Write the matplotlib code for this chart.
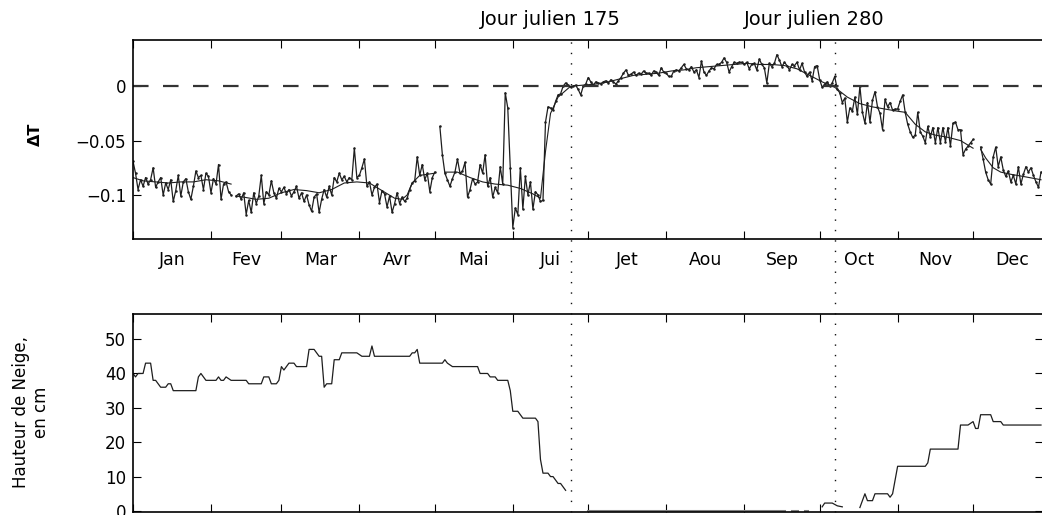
import numpy as np
import matplotlib
matplotlib.use("Agg")
import matplotlib.pyplot as plt
from matplotlib.lines import Line2D
from matplotlib.ticker import FixedLocator, FixedFormatter, NullFormatter
from matplotlib.transforms import blended_transform_factory

MONTH_STARTS = [1, 32, 60, 91, 121, 152, 182, 213, 244, 274, 305, 335, 366]
MONTHS = ["Jan", "Fev", "Mar", "Avr", "Mai", "Jui",
          "Jet", "Aou", "Sep", "Oct", "Nov", "Dec"]
MARK_DAYS = [175, 280]
nan = np.nan

# daily Delta T, in 1e-3 units, day 1..362 (nan = missing)
dt_milli = [
    -69, -80, -95, -86, -92, -84, -90, -86, -75, -93, -88, -84, -100, -89, -95, -86,
    -106, -96, -82, -101, -88, -85, -97, -104, -92, -78, -84, -82, -95, -80, -83,  # jan
    -98, -85, -90, -72, -104, -90, -88, -97, -100, nan, -101, -99, -104, -98, -118,
    -105, -116, -98, -108, -101, -82, -108, -97, -100, -87, -98, -103, -94,  # feb
    -97, -93, -99, -95, -101, -97, -92, -103, -98, -106, -100, -109, -115, -102, -99,
    -116, -104, -95, -102, -92, -100, -84, -88, -80, -86, -83, -88, -84, -86, -57, -84,  # mar
    -82, -75, -67, -92, -88, -100, -93, -90, -107, -96, -99, -111, -101, -116, -108,
    -98, -108, -102, -106, -103, -95, -89, -87, -65, -82, -72, -86, -80, -97, -84,  # apr
    -79, nan, -37, -63, -80, -86, -92, -85, -79, -67, -80, -78, -70, -102, -95, -85,
    -90, -88, -72, -80, -63, -92, -84, -102, -93, -98, -74, -90, -6, -20, -75,  # may
    -130, -112, -118, -75, -113, -83, -100, -88, -113, -97, -100, -106, -105, -33, -19,
    -20, -22, -14, -8, -7, 0, 3, 1, -1, 0, 1, -3, -8, 0, 2,  # jun
    8, 4, 1, 4, 3, 2, 4, 5, 3, 6, 4, 2, 5, 8, 12, 15, 10, 11, 13, 10, 12, 11, 14, 12,
    12, 10, 14, 13, 10, 17, 13,  # jul
    12, 9, 9, 14, 15, 14, 17, 20, 16, 15, 18, 13, 15, 8, 23, 13, 10, 14, 17, 16, 20,
    20, 22, 26, 22, 13, 18, 22, 21, 22, 22,  # aug
    20, 22, 16, 20, 21, 15, 25, 20, 17, 3, 21, 18, 21, 29, 24, 18, 22, 19, 15, 20, 19,
    22, 15, 21, 13, 9, 13, 5, 18, 19,  # sep
    6, -1, 2, 4, 0, 3, 9, -3, -6, -15, -11, -33, -20, -23, -10, -26, 0, -24, -34, -15,
    -33, -13, -5, -19, -25, -40, -12, -19, -15, -22, -21,  # oct
    -21, -14, -8, -24, -35, -42, -47, -45, -24, -42, -46, -52, -37, -47, -38, -52, -38,
    -52, -38, -51, -38, -55, -34, -33, -40, -40, -63, -58, -55, -52,  # nov
    -49, nan, nan, -56, -67, -79, -86, -90, -65, -56, -74, -65, -77, -83, -78, -88, -82,
    -90, -74, -90, -81, -74, -79, -75, -82, -88, -93, -79,  # dec
]

# smoothed Delta T, 1e-3 units
smooth_days = [1, 5, 10, 15, 20, 25, 30, 35, 40, 41, 42, 45, 50, 55, 60, 65, 70, 75,
               80, 85, 90, 95, 100, 105, 108, 110, 112, 115, 121, 122, 125, 130, 135,
               140, 145, 150, 155, 160, 163, 165, 167, 170, 175, 180, 185, 190, 195,
               200, 205, 210, 215, 220, 225, 230, 235, 240, 245, 250, 255, 260, 265,
               270, 275, 280, 285, 290, 295, 300, 305, 308, 312, 316, 320, 325, 330,
               335, 336, 338, 340, 343, 346, 350, 355, 362]
smooth_milli = [-84, -87, -88, -89, -88, -88, -86, -87, -90, nan, -101, -102, -104,
                -103, -98, -95, -96, -98, -95, -89, -88, -89, -96, -103, -104, -100,
                -89, -82, -80, nan, -79, -79, -84, -88, -90, -91, -94, -99, -103, -60,
                -25, -10, 0, 1, 2, 4, 7, 10, 11, 12, 14, 15, 17, 18, 19, 20, 21, 20,
                20, 19, 16, 10, 4, -1, -10, -16, -19, -21, -23, -24, -35, -42, -45,
                -47, -50, -57, nan, -58, -66, -75, -79, -81, -83, -86]

# snow depth (cm)
snow_days = [1, 2, 3, 5, 6, 8, 9, 10, 12, 14, 15, 16, 17, 26, 27, 28, 30, 34, 35, 36,
             37, 38, 40, 46, 47, 52, 53, 55, 56, 58, 59, 60, 61, 63, 65, 66, 70, 71,
             73, 75, 76, 77, 78, 80, 81, 83, 84, 90, 92, 95, 96, 97, 111, 112, 113,
             114, 115, 124, 125, 126, 128, 138, 139, 142, 143, 145, 146, 150, 151,
             152, 154, 156, 161, 162, 163, 164, 166, 167, 168, 170, 171, 173, 174,
             275, 276, 279, 281, 283, 284, 290, 291, 292, 293, 295, 296, 301, 302,
             303, 304, 305, 316, 317, 318, 329, 330, 333, 335, 336, 337, 338, 342,
             343, 346, 347, 362]
snow_cm = [40, 39, 40, 40, 43, 43, 38, 38, 36, 36, 37, 37, 35, 35, 39, 40, 38, 38, 39,
           38, 38, 39, 38, 38, 37, 37, 39, 39, 37, 37, 38, 42, 41, 43, 43, 42, 42, 47,
           47, 45, 45, 36, 37, 37, 44, 44, 46, 46, 45, 45, 48, 45, 45, 46, 46, 47, 43,
           43, 44, 43, 42, 42, 40, 40, 39, 39, 38, 38, 35, 29, 29, 27, 27, 26, 15, 11,
           11, 10, 10, 8, 8, 6, nan,
           1.2, 2.3, 2.3, 1.5, 1.2, nan, 1, 3, 5, 3, 3, 5, 5, 4, 5, 9, 13, 13, 14, 18,
           18, 25, 25, 26, 24, 24, 28, 28, 26, 26, 25, 25]
zero_days = [182, 260, 261, 263, 265, 266, 268, 269]
zero_cm = [0, 0, nan, 0, 0, nan, 0, 0]

days = np.arange(1, len(dt_milli) + 1)
dt = np.array(dt_milli, dtype=float) / 1000
smooth = np.array(smooth_milli, dtype=float) / 1000

W, H = 1042, 515
fig = plt.figure(figsize=(W / 100, H / 100), dpi=100)
ax_b = fig.add_axes([133 / W, 1 - 512 / H, 910 / W, 198 / H])
ax_t = fig.add_axes([133 / W, 1 - 239 / H, 910 / W, 199 / H])

LC = "#1e1e1e"
ax_t.plot(days, dt, color=LC, lw=0.9, marker=".", ms=1.6)
ax_t.plot(smooth_days, smooth, color=LC, lw=0.8)
ax_t.axhline(0, color="#333333", lw=1.6, dashes=(7, 6.5))

ax_b.plot(snow_days, snow_cm, color=LC, lw=0.9)
ax_b.plot(zero_days, zero_cm, color="#808080", lw=2.2)

mids = [(a + b) / 2 for a, b in zip(MONTH_STARTS[:-1], MONTH_STARTS[1:])]
for ax in (ax_t, ax_b):
    ax.set_xlim(1, 362.8)
    ax.xaxis.set_major_locator(FixedLocator(MONTH_STARTS[:-1]))
    ax.xaxis.set_major_formatter(NullFormatter())
    ax.tick_params(which="major", direction="in", length=5.5, width=0.8,
                   top=True, right=True, labelsize=12, pad=5)
    for s in ax.spines.values():
        s.set_linewidth(1.2)

ax_t.xaxis.set_minor_locator(FixedLocator(mids))
ax_t.xaxis.set_minor_formatter(FixedFormatter(MONTHS))
ax_t.tick_params(axis="x", which="minor", length=0, labelsize=12.5, pad=9)

ax_t.set_ylim(-0.1405, 0.0425)
ax_t.set_yticks([-0.1, -0.05, 0])
ax_t.set_yticklabels(["\u22120.1", "\u22120.05", "0"])

ax_b.set_ylim(-0.3, 57.3)
ax_b.set_yticks([0, 10, 20, 30, 40, 50])

fig.text(35 / W, 1 - 134 / H, "\u0394T", rotation=90, ha="center", va="center",
         fontsize=11.5, fontweight="bold")
fig.text(31 / W, 1 - 412 / H, "Hauteur de Neige,\nen cm", rotation=90,
         ha="center", va="center", fontsize=12, linespacing=1.15)

# vertical dotted markers and their labels
tr = blended_transform_factory(ax_t.transData, fig.transFigure)
for d in MARK_DAYS:
    fig.add_artist(Line2D([d, d], [1 - 512 / H, 1 - 36 / H], transform=tr,
                          color="#111111", lw=1.0, dashes=(1, 6.5)))
    ax_t.text(d - 8, 1 - 25 / H, f"Jour julien {d}", transform=tr,
              ha="center", va="baseline", fontsize=14)

fig.savefig("out.png", dpi=100)
